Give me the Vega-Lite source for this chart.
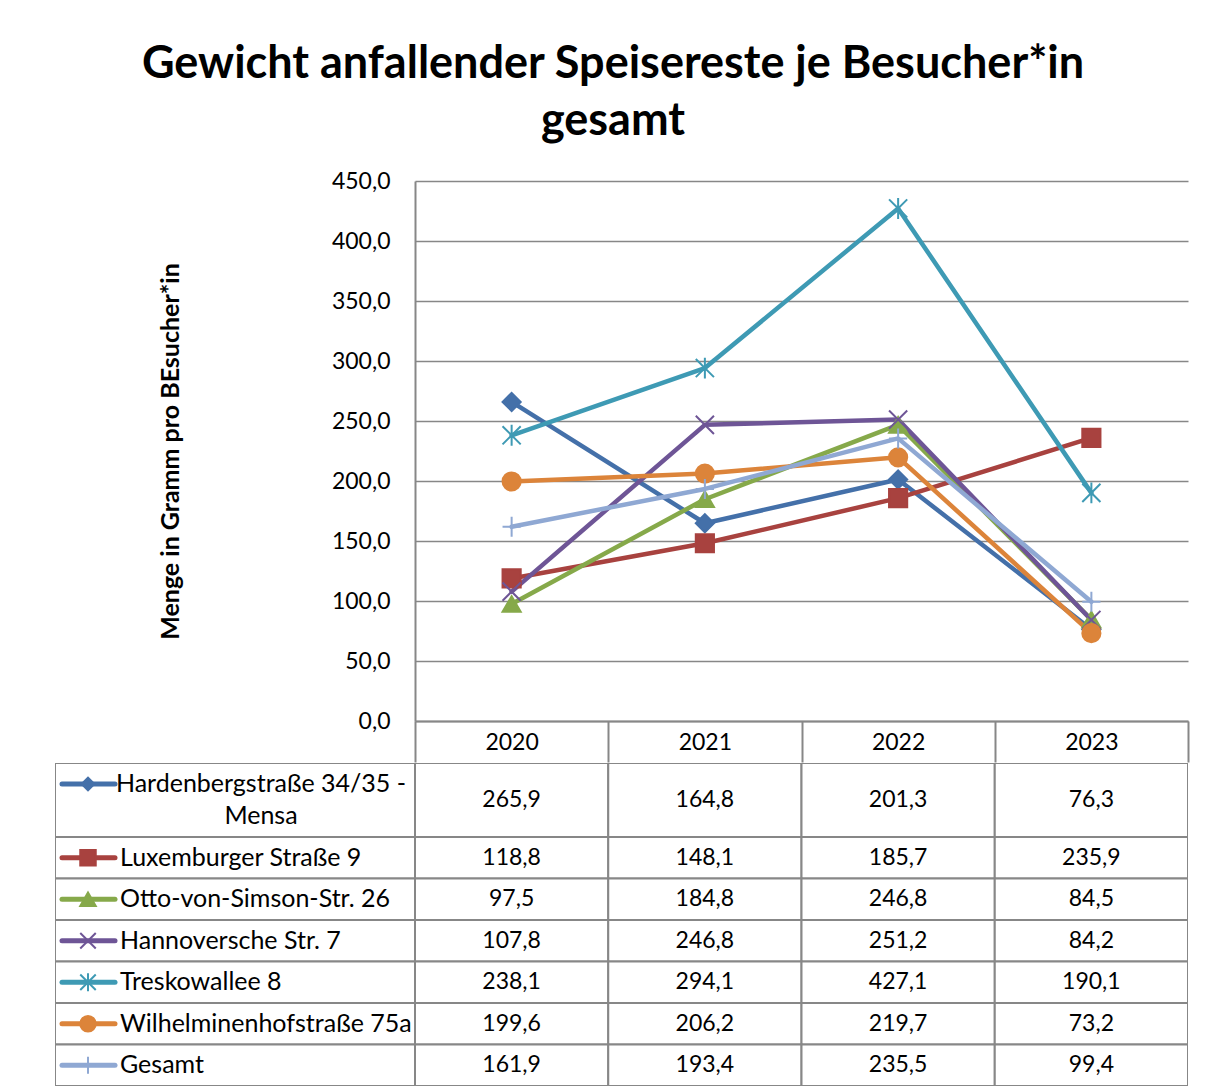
{
  "$schema": "https://vega.github.io/schema/vega-lite/v6.json",
  "padding": {"left": 55, "top": 42, "right": 5, "bottom": 2},
  "title": {
    "text": ["Gewicht anfallender Speisereste je Besucher*in", "gesamt"],
    "font": "Lato", "fontSize": 45, "fontWeight": "bold", "color": "#000000",
    "lineHeight": 57, "anchor": "middle", "offset": 26, "dx": -9
  },
  "datasets": {
    "d": [
      {"series": "Hardenbergstraße 34/35 -\nMensa", "year": 2020, "value": 265.9},
      {"series": "Hardenbergstraße 34/35 -\nMensa", "year": 2021, "value": 164.8},
      {"series": "Hardenbergstraße 34/35 -\nMensa", "year": 2022, "value": 201.3},
      {"series": "Hardenbergstraße 34/35 -\nMensa", "year": 2023, "value": 76.3},
      {"series": "Luxemburger Straße 9", "year": 2020, "value": 118.8},
      {"series": "Luxemburger Straße 9", "year": 2021, "value": 148.1},
      {"series": "Luxemburger Straße 9", "year": 2022, "value": 185.7},
      {"series": "Luxemburger Straße 9", "year": 2023, "value": 235.9},
      {"series": "Otto-von-Simson-Str. 26", "year": 2020, "value": 97.5},
      {"series": "Otto-von-Simson-Str. 26", "year": 2021, "value": 184.8},
      {"series": "Otto-von-Simson-Str. 26", "year": 2022, "value": 246.8},
      {"series": "Otto-von-Simson-Str. 26", "year": 2023, "value": 84.5},
      {"series": "Hannoversche Str. 7", "year": 2020, "value": 107.8},
      {"series": "Hannoversche Str. 7", "year": 2021, "value": 246.8},
      {"series": "Hannoversche Str. 7", "year": 2022, "value": 251.2},
      {"series": "Hannoversche Str. 7", "year": 2023, "value": 84.2},
      {"series": "Treskowallee 8", "year": 2020, "value": 238.1},
      {"series": "Treskowallee 8", "year": 2021, "value": 294.1},
      {"series": "Treskowallee 8", "year": 2022, "value": 427.1},
      {"series": "Treskowallee 8", "year": 2023, "value": 190.1},
      {"series": "Wilhelminenhofstraße 75a", "year": 2020, "value": 199.6},
      {"series": "Wilhelminenhofstraße 75a", "year": 2021, "value": 206.2},
      {"series": "Wilhelminenhofstraße 75a", "year": 2022, "value": 219.7},
      {"series": "Wilhelminenhofstraße 75a", "year": 2023, "value": 73.2},
      {"series": "Gesamt", "year": 2020, "value": 161.9},
      {"series": "Gesamt", "year": 2021, "value": 193.4},
      {"series": "Gesamt", "year": 2022, "value": 235.5},
      {"series": "Gesamt", "year": 2023, "value": 99.4}
    ]
  },
  "spacing": 0,
  "vconcat": [
    {
      "spacing": 0,
      "bounds": "flush",
      "hconcat": [
        {
          "width": 360, "height": 540,
          "data": {"values": [{}]},
          "mark": {"type": "rect", "fill": "#ffffff", "clip": true},
          "encoding": {"x": {"value": 0}, "x2": {"value": "width"}, "y": {"value": 0}, "y2": {"value": "height"}}
        },
        {
          "width": 773, "height": 540,
          "data": {"name": "d"},
          "layer": [
            {
              "mark": {"type": "line", "strokeWidth": 4.5, "strokeCap": "round", "strokeJoin": "round"},
              "encoding": {
                "x": {"field": "year", "type": "ordinal", "scale": {"paddingInner": 0, "paddingOuter": 0},
                  "axis": {
                    "title": null, "orient": "bottom", "labelAngle": 0,
                    "tickBand": "extent", "ticks": true, "tickSize": 41, "tickColor": "#878787", "tickWidth": 2,
                    "domain": true, "domainColor": "#878787", "domainWidth": 2,
                    "labelPadding": -20, "labelBaseline": "middle",
                    "labelFont": "Lato", "labelFontSize": 23, "labelColor": "#000000"
                  }
                },
                "y": {"field": "value", "type": "quantitative", "scale": {"domain": [0, 450], "nice": false},
                  "title": "Menge in Gramm pro BEsucher*in",
                  "axis": {
                    "values": [0, 50, 100, 150, 200, 250, 300, 350, 400, 450],
                    "format": ".1f",
                    "grid": true, "gridColor": "#878787", "gridWidth": 1.7, "gridOpacity": 1,
                    "domain": true, "domainColor": "#878787", "domainWidth": 2,
                    "ticks": false, "labelPadding": 25,
                    "labelFont": "Lato", "labelFontSize": 23, "labelColor": "#000000",
                    "titleFont": "Lato", "titleFontSize": 25, "titleFontWeight": "bold", "titleColor": "#000000",
                    "titleX": -245, "titleY": 270, "titleAngle": -90, "titleAlign": "center", "titleBaseline": "middle"
                  }
                },
                "color": {"field": "series", "type": "nominal", "legend": null,
                  "scale": {"domain": ["Hardenbergstraße 34/35 -\nMensa", "Luxemburger Straße 9", "Otto-von-Simson-Str. 26", "Hannoversche Str. 7", "Treskowallee 8", "Wilhelminenhofstraße 75a", "Gesamt"],
                    "range": ["#4470A9", "#A8423F", "#86A94A", "#6E5596", "#3E9AB4", "#DC843A", "#8FA8D3"]}}
              }
            },
            {
              "mark": {"type": "point", "filled": true, "size": 330, "strokeWidth": 2, "opacity": 1},
              "encoding": {
                "x": {"field": "year", "type": "ordinal"},
                "y": {"field": "value", "type": "quantitative"},
                "color": {"field": "series", "type": "nominal", "legend": null,
                  "scale": {"domain": ["Hardenbergstraße 34/35 -\nMensa", "Luxemburger Straße 9", "Otto-von-Simson-Str. 26", "Hannoversche Str. 7", "Treskowallee 8", "Wilhelminenhofstraße 75a", "Gesamt"],
                    "range": ["#4470A9", "#A8423F", "#86A94A", "#6E5596", "#3E9AB4", "#DC843A", "#8FA8D3"]}},
                "stroke": {"field": "series", "type": "nominal", "legend": null,
                  "scale": {"domain": ["Hardenbergstraße 34/35 -\nMensa", "Luxemburger Straße 9", "Otto-von-Simson-Str. 26", "Hannoversche Str. 7", "Treskowallee 8", "Wilhelminenhofstraße 75a", "Gesamt"],
                    "range": ["#4470A9", "#A8423F", "#86A94A", "#6E5596", "#3E9AB4", "#DC843A", "#8FA8D3"]}},
                "shape": {"field": "series", "type": "nominal", "legend": null,
                  "scale": {"domain": ["Hardenbergstraße 34/35 -\nMensa", "Luxemburger Straße 9", "Otto-von-Simson-Str. 26", "Hannoversche Str. 7", "Treskowallee 8", "Wilhelminenhofstraße 75a", "Gesamt"],
                    "range": ["diamond", "square", "triangle-up", "M-1,-1L1,1M-1,1L1,-1", "M-1,-1L1,1M-1,1L1,-1M0,-1.15L0,1.15", "circle", "M-1,0L1,0M0,-1.1L0,1.1"]}}
              }
            }
          ]
        }
      ]
    },
    {
      "spacing": 0,
      "bounds": "flush",
      "hconcat": [
        {
          "width": 360, "height": 74,
          "data": {"name": "d"},
          "transform": [{"filter": "indexof(datum.series, 'Hardenberg') == 0 && datum.year == 2020"}],
          "layer": [
            {
              "mark": {"type": "rect", "fill": "#ffffff", "stroke": "#878787", "strokeWidth": 2, "clip": true},
              "encoding": {"x": {"value": 0}, "x2": {"value": "width"}, "y": {"value": 0}, "y2": {"value": "height"}}
            },
            {
              "mark": {"type": "rule", "strokeWidth": 5, "strokeCap": "round", "color": "#4470A9"},
              "encoding": {
                "x": {"datum": 7, "type": "quantitative", "scale": {"domain": [0, 360], "nice": false}, "axis": null},
                "x2": {"datum": 60},
                "y": {"datum": 21, "type": "quantitative", "scale": {"domain": [0, 74], "reverse": true, "nice": false}, "axis": null}
              }
            },
            {
              "mark": {"type": "point", "filled": true, "size": 240, "shape": "diamond", "color": "#4470A9", "opacity": 1},
              "encoding": {
                "x": {"datum": 33, "type": "quantitative"},
                "y": {"datum": 21, "type": "quantitative"}
              }
            },
            {
              "mark": {"type": "text", "font": "Lato", "fontSize": 25, "color": "#000000", "align": "center", "baseline": "middle", "lineBreak": "\n", "lineHeight": 32},
              "encoding": {
                "x": {"datum": 206, "type": "quantitative"},
                "y": {"datum": 21, "type": "quantitative"},
                "text": {"field": "series", "type": "nominal"}
              }
            }
          ]
        },
        {
          "width": 773, "height": 74,
          "data": {"name": "d"},
          "transform": [{"filter": "indexof(datum.series, 'Hardenberg') == 0"}],
          "layer": [
            {
              "mark": {"type": "rect", "fill": "#ffffff", "stroke": "#878787", "strokeWidth": 2, "clip": true},
              "encoding": {
                "x": {"field": "year", "type": "ordinal", "scale": {"paddingInner": 0, "paddingOuter": 0}, "axis": null},
                "y": {"value": 0}, "y2": {"value": "height"}
              }
            },
            {
              "mark": {"type": "text", "font": "Lato", "fontSize": 23, "color": "#000000", "baseline": "middle"},
              "encoding": {
                "x": {"field": "year", "type": "ordinal"},
                "y": {"datum": 0.5, "type": "quantitative", "scale": {"domain": [0, 1]}, "axis": null},
                "text": {"field": "value", "type": "quantitative", "format": ".1f"}
              }
            }
          ]
        }
      ]
    },
    {
      "spacing": 0,
      "bounds": "flush",
      "hconcat": [
        {
          "width": 360, "height": 249,
          "data": {"name": "d"},
          "transform": [{"filter": "indexof(datum.series, 'Hardenberg') < 0 && datum.year == 2020"}],
          "encoding": {
            "y": {"field": "series", "type": "nominal", "axis": null,
              "scale": {"domain": ["Luxemburger Straße 9", "Otto-von-Simson-Str. 26", "Hannoversche Str. 7", "Treskowallee 8", "Wilhelminenhofstraße 75a", "Gesamt"], "paddingInner": 0, "paddingOuter": 0}}
          },
          "layer": [
            {
              "mark": {"type": "rect", "fill": "#ffffff", "stroke": "#878787", "strokeWidth": 2, "clip": true},
              "encoding": {"x": {"value": 0}, "x2": {"value": "width"}}
            },
            {
              "mark": {"type": "rule", "strokeWidth": 5, "strokeCap": "round"},
              "encoding": {
                "x": {"datum": 7, "type": "quantitative", "scale": {"domain": [0, 360], "nice": false}, "axis": null},
                "x2": {"datum": 60},
                "color": {"field": "series", "type": "nominal", "legend": null,
                  "scale": {"domain": ["Hardenbergstraße 34/35 -\nMensa", "Luxemburger Straße 9", "Otto-von-Simson-Str. 26", "Hannoversche Str. 7", "Treskowallee 8", "Wilhelminenhofstraße 75a", "Gesamt"],
                    "range": ["#4470A9", "#A8423F", "#86A94A", "#6E5596", "#3E9AB4", "#DC843A", "#8FA8D3"]}}
              }
            },
            {
              "mark": {"type": "point", "filled": true, "size": 240, "strokeWidth": 2, "opacity": 1},
              "encoding": {
                "x": {"datum": 33, "type": "quantitative"},
                "color": {"field": "series", "type": "nominal", "legend": null,
                  "scale": {"domain": ["Hardenbergstraße 34/35 -\nMensa", "Luxemburger Straße 9", "Otto-von-Simson-Str. 26", "Hannoversche Str. 7", "Treskowallee 8", "Wilhelminenhofstraße 75a", "Gesamt"],
                    "range": ["#4470A9", "#A8423F", "#86A94A", "#6E5596", "#3E9AB4", "#DC843A", "#8FA8D3"]}},
                "stroke": {"field": "series", "type": "nominal", "legend": null,
                  "scale": {"domain": ["Hardenbergstraße 34/35 -\nMensa", "Luxemburger Straße 9", "Otto-von-Simson-Str. 26", "Hannoversche Str. 7", "Treskowallee 8", "Wilhelminenhofstraße 75a", "Gesamt"],
                    "range": ["#4470A9", "#A8423F", "#86A94A", "#6E5596", "#3E9AB4", "#DC843A", "#8FA8D3"]}},
                "shape": {"field": "series", "type": "nominal", "legend": null,
                  "scale": {"domain": ["Hardenbergstraße 34/35 -\nMensa", "Luxemburger Straße 9", "Otto-von-Simson-Str. 26", "Hannoversche Str. 7", "Treskowallee 8", "Wilhelminenhofstraße 75a", "Gesamt"],
                    "range": ["diamond", "square", "triangle-up", "M-1,-1L1,1M-1,1L1,-1", "M-1,-1L1,1M-1,1L1,-1M0,-1.15L0,1.15", "circle", "M-1,0L1,0M0,-1.1L0,1.1"]}}
              }
            },
            {
              "mark": {"type": "text", "font": "Lato", "fontSize": 25, "color": "#000000", "align": "left", "baseline": "middle"},
              "encoding": {
                "x": {"datum": 65, "type": "quantitative"},
                "text": {"field": "series", "type": "nominal"}
              }
            }
          ]
        },
        {
          "width": 773, "height": 249,
          "data": {"name": "d"},
          "transform": [{"filter": "indexof(datum.series, 'Hardenberg') < 0"}],
          "encoding": {
            "x": {"field": "year", "type": "ordinal", "scale": {"paddingInner": 0, "paddingOuter": 0}, "axis": null},
            "y": {"field": "series", "type": "nominal", "axis": null,
              "scale": {"domain": ["Luxemburger Straße 9", "Otto-von-Simson-Str. 26", "Hannoversche Str. 7", "Treskowallee 8", "Wilhelminenhofstraße 75a", "Gesamt"], "paddingInner": 0, "paddingOuter": 0}}
          },
          "layer": [
            {"mark": {"type": "rect", "fill": "#ffffff", "stroke": "#878787", "strokeWidth": 2, "clip": true}},
            {
              "mark": {"type": "text", "font": "Lato", "fontSize": 23, "color": "#000000", "baseline": "middle"},
              "encoding": {"text": {"field": "value", "type": "quantitative", "format": ".1f"}}
            }
          ]
        }
      ]
    }
  ],
  "config": {
    "view": {"stroke": null},
    "font": "Lato",
    "locale": {"number": {"decimal": ",", "thousands": ".", "grouping": [3], "currency": ["", " €"]}}
  }
}
